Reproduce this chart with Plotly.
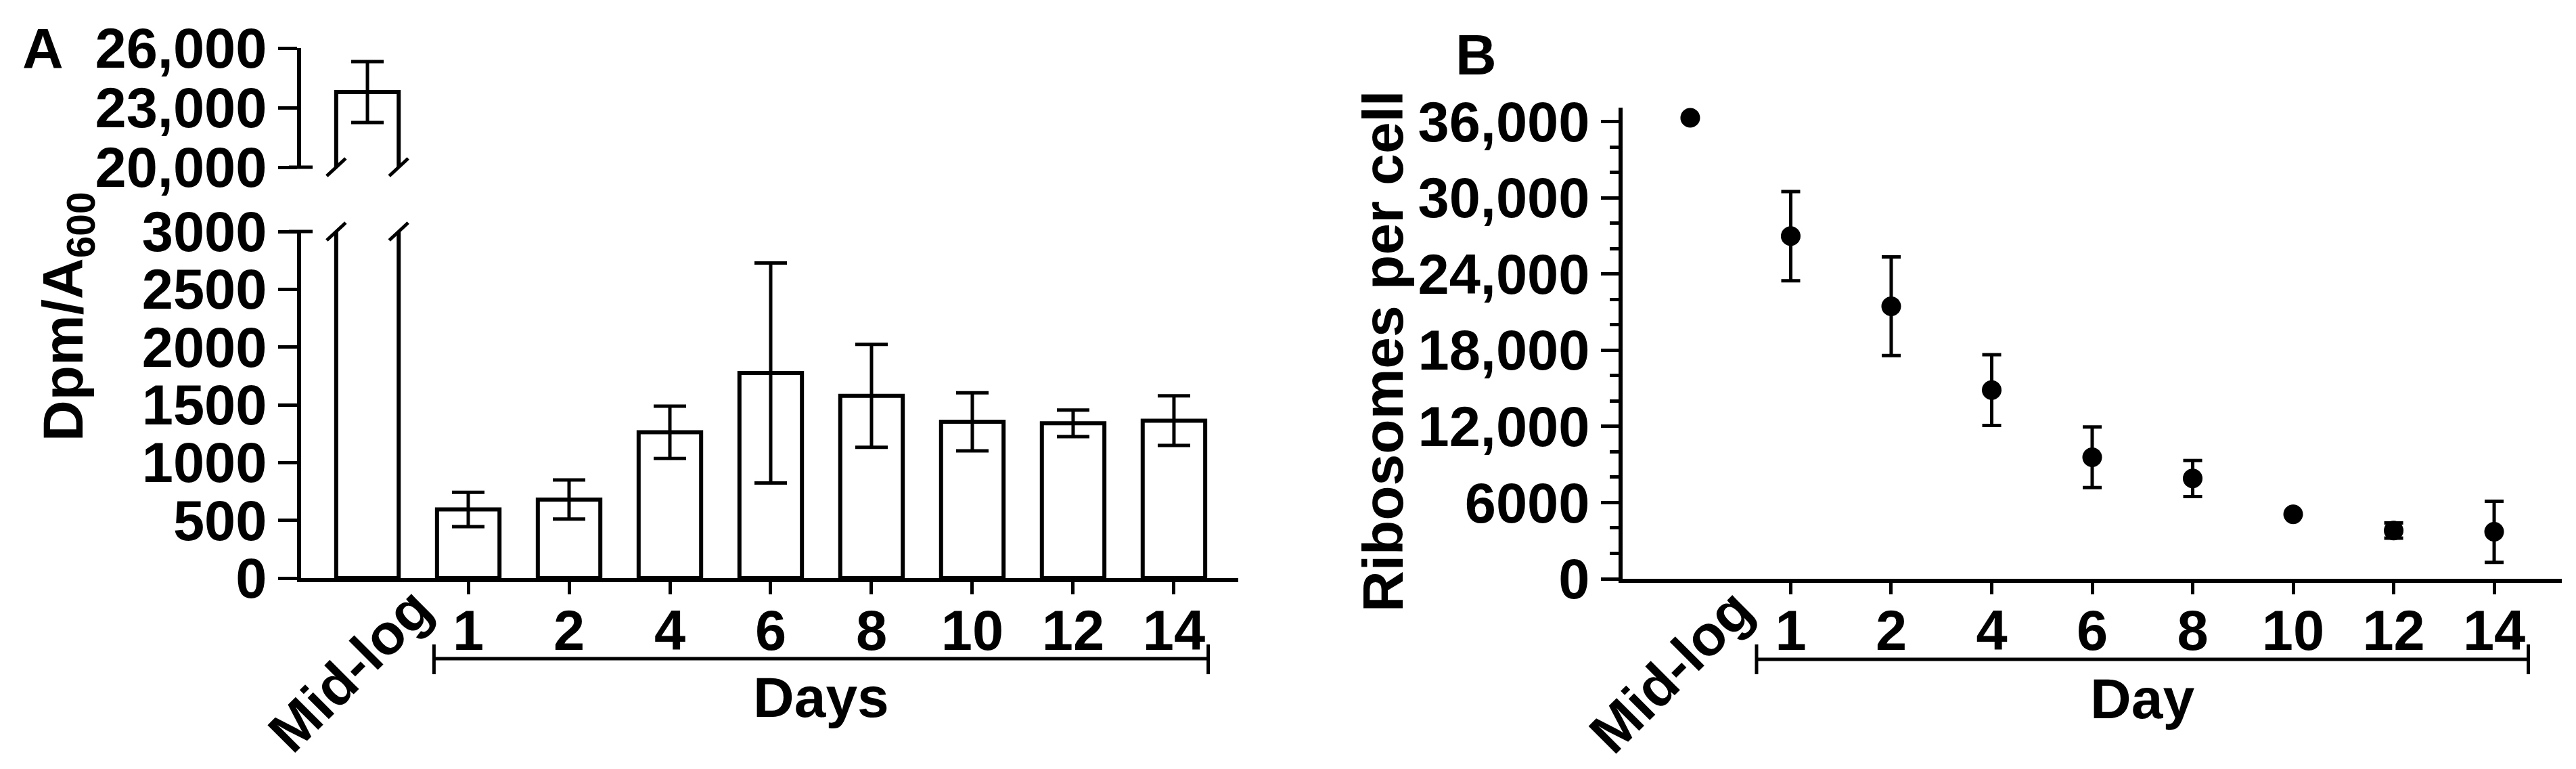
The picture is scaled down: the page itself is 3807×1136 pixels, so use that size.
import plotly.graph_objects as go

W, H = 3807, 1136
FONT = "Liberation Sans, Arial, sans-serif"

days = ["Mid-log", "1", "2", "4", "6", "8", "10", "12", "14"]

# panel A: Dpm/A600 (mean, error)
dpm_mean = [23784, 594, 680, 1262, 1775, 1578, 1353, 1340, 1363]
dpm_err = [1534, 148, 169, 226, 952, 445, 251, 115, 215]

# panel B: ribosomes per cell (mean, error)
ribo_mean = [36300, 26980, 21460, 14860, 9570, 7900, 5080, 3800, 3700]
ribo_err = [0, 3510, 3880, 2790, 2390, 1420, 0, 600, 2410]

a_low_ticks = [0, 500, 1000, 1500, 2000, 2500, 3000]
a_high_ticks = [20000, 23000, 26000]
b_ticks = [0, 6000, 12000, 18000, 24000, 30000, 36000]
b_ticktext = ["0", "6000", "12,000", "18,000", "24,000", "30,000", "36,000"]


def px(x):
    return x / W


def py(y):
    return 1 - y / H


BAR_W = 0.62
A_RANGE = [-0.658, 8.638]
B_RANGE = [-0.673, 8.673]
tickfont = dict(family=FONT, size=83, color="black", weight="bold")

fig = go.Figure()
for xa, ya in (("x", "y"), ("x2", "y2")):
    fig.add_trace(go.Bar(
        x=days, y=dpm_mean, xaxis=xa, yaxis=ya, width=BAR_W,
        marker=dict(color="white", line=dict(color="black", width=6)),
        error_y=dict(type="data", array=dpm_err, color="black", thickness=5, width=24),
    ))

fig.add_trace(go.Scatter(
    x=days, y=ribo_mean, xaxis="x3", yaxis="y3", mode="markers",
    marker=dict(color="black", size=29),
    error_y=dict(type="data", array=ribo_err, color="black", thickness=5, width=14),
))

axis = dict(showline=True, linecolor="black", linewidth=6, ticks="outside",
            tickcolor="black", tickwidth=5, showgrid=False, zeroline=False,
            automargin=False, tickfont=tickfont)
# extra axes that only carry the unlabelled Mid-log tick
midlog_tick = dict(type="linear", tickvals=[0], showticklabels=False, ticks="outside",
                   tickcolor="black", tickwidth=5, showline=False, showgrid=False,
                   zeroline=False, automargin=False)

fig.update_layout(
    template="simple_white",
    width=W, height=H, margin=dict(l=0, r=0, t=0, b=0, autoexpand=False),
    paper_bgcolor="white", plot_bgcolor="white", showlegend=False,
    xaxis=dict(axis, domain=[px(437), px(1822)], range=A_RANGE, type="category",
               tickvals=days[1:], ticklen=18, ticklabelstandoff=-18, anchor="y"),
    xaxis2=dict(domain=[px(437), px(1822)], range=A_RANGE, type="category",
                visible=False, anchor="y2", automargin=False),
    xaxis4=dict(midlog_tick, domain=[px(437), px(1822)], range=A_RANGE, ticklen=18,
                anchor="y", overlaying="x"),
    yaxis=dict(axis, domain=[py(846), py(334)], range=[0, 3000], tickvals=a_low_ticks,
               tickformat="d", ticklen=28, anchor="x"),
    yaxis2=dict(axis, domain=[py(239), py(63)], range=[20000, 26000], tickvals=a_high_ticks,
                tickformat=",d", ticklen=28, anchor="x2"),
    xaxis3=dict(axis, domain=[px(2390), px(3778)], range=B_RANGE, type="category",
                tickvals=days[1:], ticklen=17, ticklabelstandoff=-18, anchor="y3"),
    xaxis5=dict(midlog_tick, domain=[px(2390), px(3778)], range=B_RANGE, ticklen=17,
                anchor="y3", overlaying="x3"),
    yaxis3=dict(axis, domain=[py(847), py(151)], range=[0, 37100], tickvals=b_ticks,
                ticktext=b_ticktext, ticklen=26, anchor="x3",
                minor=dict(tickmode="linear", tick0=0, dtick=2000, ticks="outside",
                           ticklen=13, tickwidth=5, tickcolor="black", showgrid=False)),
)

shapes = []
line = dict(color="black", width=5)
solid = dict(type="line", opacity=1, line=line)
# break marks on the Mid-log bar (top of lower panel, bottom of upper panel)
for edge in (-BAR_W / 2, BAR_W / 2):
    for xr, yr, yv in (("x", "y domain", 1), ("x2", "y2 domain", 0)):
        shapes.append(dict(solid, xref=xr, yref=yr, xsizemode="pixel", ysizemode="pixel",
                           xanchor=edge, yanchor=yv, x0=-14, x1=14, y0=-13, y1=13))
# caps on the broken y axis
for yr, yv in (("y2 domain", 0), ("y domain", 1)):
    shapes.append(dict(solid, xref="paper", yref=yr, xsizemode="pixel", xanchor=px(437),
                       x0=-18, x1=17, y0=yv, y1=yv))
# "Days" brackets
for xr, yl in (("x", 965), ("x3", 966)):
    lo, hi = 1 - 0.34, 8 + 0.34
    shapes.append(dict(solid, xref=xr, yref="paper", x0=lo, x1=hi, y0=py(yl), y1=py(yl)))
    for xv in (lo, hi):
        shapes.append(dict(solid, xref=xr, yref="paper", x0=xv, x1=xv, y0=py(944), y1=py(988)))
fig.update_layout(shapes=shapes)

big = dict(family=FONT, size=84, color="black", weight="bold")
ann = [
    dict(text="A", xref="paper", yref="paper", x=px(55), y=py(64)),
    dict(text="B", xref="paper", yref="paper", x=px(2173), y=py(73)),
    dict(text="Dpm/A<sub>600</sub>", xref="paper", yref="paper", x=px(91), y=py(460), textangle=-90),
    dict(text="Ribosomes per cell", xref="paper", yref="paper", x=px(2036), y=py(511), textangle=-90),
    dict(text="Mid-log", xref="x", yref="paper", x="Mid-log", xshift=-26, y=py(982), textangle=-45),
    dict(text="Mid-log", xref="x3", yref="paper", x="Mid-log", xshift=-28, y=py(983), textangle=-45),
    dict(text="Days", xref="x", yref="paper", x=4.5, y=py(1022)),
    dict(text="Day", xref="x3", yref="paper", x=4.5, y=py(1024)),
]
for a in ann:
    fig.add_annotation(showarrow=False, font=big, xanchor="center", yanchor="middle", **a)

fig.write_html("out.html")
